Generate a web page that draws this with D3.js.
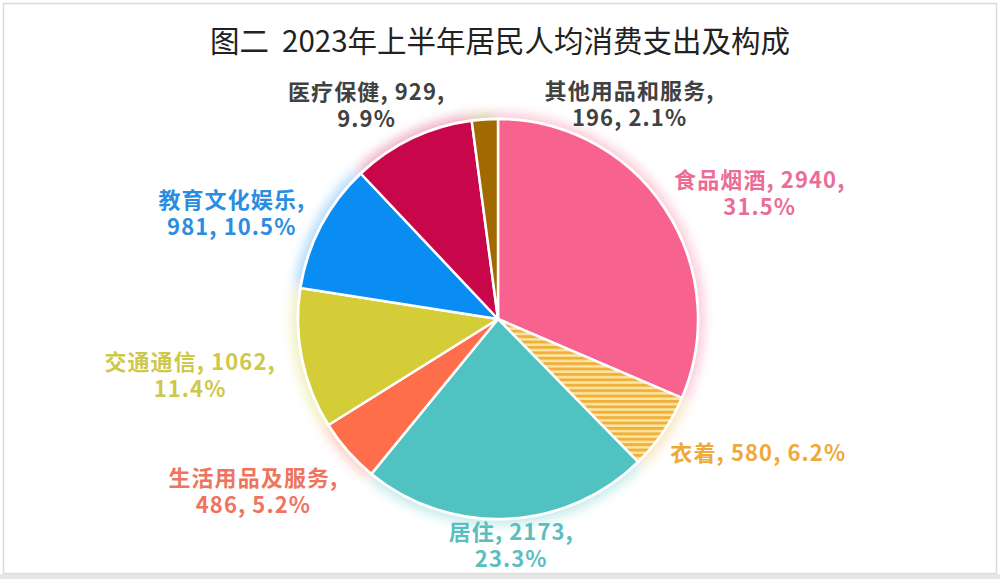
<!DOCTYPE html>
<html><head><meta charset="utf-8">
<script src="https://cdn.jsdelivr.net/npm/d3@7/dist/d3.min.js"></script>
<style>
html,body{margin:0;padding:0;background:#fff;}
svg{display:block;}
</style></head>
<body><svg id="c" width="1000" height="579"></svg>
<script>
// ---- data ----
const categories = ["食品烟酒","衣着","居住","生活用品及服务","交通通信","教育文化娱乐","医疗保健","其他用品和服务"];
const values = [2940, 580, 2173, 486, 1062, 981, 929, 196];
const percents = ["31.5%","6.2%","23.3%","5.2%","11.4%","10.5%","9.9%","2.1%"];
const titleText = "图二  2023年上半年居民人均消费支出及构成";

// ---- styles / layout ----
const sliceColors = ["#F7628F","url(#hatch)","#4FC2C1","#FF6E4A","#D5CD38","#0A8DF2","#C8074A","#A06A00"];
const glowColors  = ["#F7628F","#F2B23E","#4FC2C1","#FF6E4A","#D5CD38","#0A8DF2","#C8074A","#A06A00"];
const labelColors = ["#EB6D97","#EEA93A","#5ABEBE","#EF745E","#CEC848","#2A8DE2","#414141","#414141"];
// 0: one line, 1: break after name, 2: break after value
const labelBreak = [2,0,2,1,2,1,2,1];
const labelNudge = [[53,12],[54,-7],[2,-23],[-57,7],[-63,6],[-45,11],[-24,12],[148,35]];

const W = 1000, H = 579;
const cx = 498, cy = 319, R = 200;
const svg = d3.select("#c");

// frame
svg.append("rect").attr("x",0).attr("y",0).attr("width",W).attr("height",H).attr("fill","#fff");
svg.append("rect").attr("x",0).attr("y",574).attr("width",W).attr("height",5).attr("fill","#e6e6e8");
svg.append("rect").attr("x",3.5).attr("y",3.5).attr("width",993).attr("height",570)
  .attr("fill","none").attr("stroke","#dcdcdc").attr("stroke-width",1.5);

const defs = svg.append("defs");
const pat = defs.append("pattern").attr("id","hatch").attr("patternUnits","userSpaceOnUse")
  .attr("width",10).attr("height",5.4);
pat.append("rect").attr("width",10).attr("height",5.4).attr("fill","#FCE5A2");
pat.append("rect").attr("y",0).attr("width",10).attr("height",2.9).attr("fill","#F0B03C");
const f = defs.append("filter").attr("id","glow").attr("x","-20%").attr("y","-20%").attr("width","140%").attr("height","140%");
f.append("feGaussianBlur").attr("stdDeviation",6);

// title
svg.append("text").attr("x",500).attr("y",52).attr("text-anchor","middle")
  .attr("font-family","'Noto Sans CJK SC','Noto Sans',sans-serif").attr("font-size",29.5)
  .attr("fill","#222").style("white-space","pre").text(titleText);

const pie = d3.pie().sort(null).value(d => d)(values);
const arc = d3.arc().innerRadius(0).outerRadius(R);
const glowArc = d3.arc().innerRadius(0).outerRadius(R + 6);
const labelArc = d3.arc().innerRadius(250).outerRadius(250);

const g = svg.append("g").attr("transform",`translate(${cx},${cy})`);
g.append("g").attr("filter","url(#glow)").attr("opacity",0.35)
  .selectAll("path").data(pie).join("path")
  .attr("d", glowArc).attr("fill",(d,i)=>glowColors[i]);
g.append("circle").attr("r",R+1.5).attr("fill","#fff");
g.append("g").selectAll("path").data(pie).join("path")
  .attr("d", arc).attr("fill",(d,i)=>sliceColors[i])
  .attr("stroke","#fff").attr("stroke-width",2.5).attr("stroke-linejoin","round");

// labels
const lg = svg.append("g").attr("font-family","'Noto Sans CJK SC','Noto Sans',sans-serif")
  .attr("font-weight","bold").attr("font-size",22).attr("letter-spacing",1.1).attr("text-anchor","middle");
pie.forEach((d,i)=>{
  const [bx,by] = labelArc.centroid(d);
  const x = cx + bx + labelNudge[i][0], y = cy + by + labelNudge[i][1];
  const name = categories[i], v = String(values[i]), p = percents[i];
  let lines;
  if (labelBreak[i]===0) lines = [`${name}, ${v}, ${p}`];
  else if (labelBreak[i]===1) lines = [`${name},`, `${v}, ${p}`];
  else lines = [`${name}, ${v},`, p];
  const lh = 27;
  const y0 = y - (lines.length-1)*lh/2 + 8;
  const t = lg.append("text").attr("fill",labelColors[i]).style("white-space","pre");
  lines.forEach((s,k)=> t.append("tspan").attr("x",x).attr("y",y0+k*lh).text(s));
});
</script></body></html>
